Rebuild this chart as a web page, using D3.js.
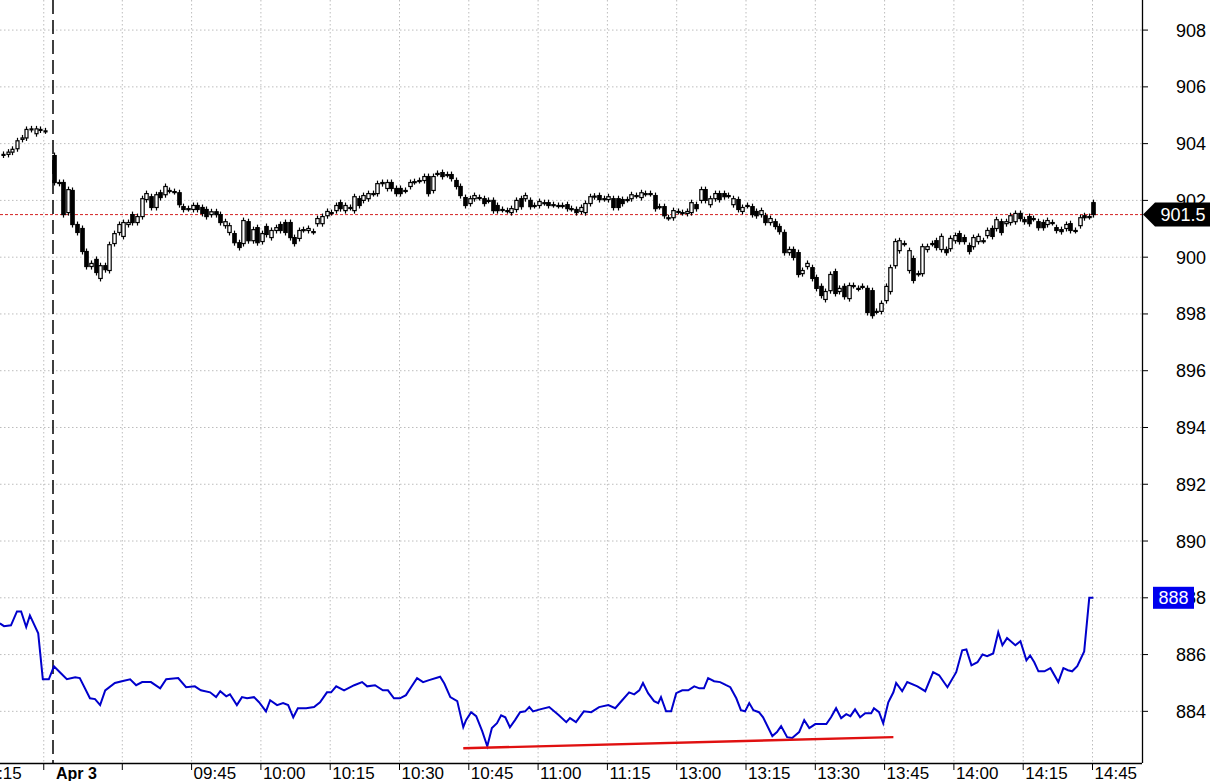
<!DOCTYPE html>
<html><head><meta charset="utf-8">
<script src="https://cdn.jsdelivr.net/npm/d3@7"></script>
<style>body{margin:0;background:#fff}svg{display:block;font-family:Arial,"Liberation Sans",sans-serif}</style>
</head><body><svg id="c" width="1225" height="781"></svg>
<script>
// ---- data ----
const preBars = [[903.6,903.62],[903.62,903.7],[903.7,903.8],[903.82,904.1],[904.15,904.2],[904.2,904.5],[904.5,904.52],[904.35,904.52],[904.5,904.48],[904.45,904.45]];
const sessionBars = [
[903.58,902.63],[902.63,902.6],[902.63,901.5],[901.57,902.38],[902.35,901.15],[901.15,900.87],[901.01,900.2],[900.2,899.67],[899.67,899.78],[899.92,899.46],
[899.25,899.7],[899.7,899.56],[899.53,900.44],[900.48,900.83],[900.87,901.15],[900.73,901.22],[901.15,901.22],[901.5,901.22],[901.22,901.43],[901.43,902.06],
[902.03,902.24],[902.13,901.75],[901.75,902.2],[902.27,902.1],[902.2,902.49],[902.35,902.35],[902.31,902.31],[902.27,901.85],[901.78,901.68],[901.71,901.71],
[901.68,901.82],[901.82,901.68],[901.75,901.54],[901.68,901.43],[901.5,901.6],[901.6,901.5],[901.5,901.22],[901.11,901.25],[900.87,901.11],[900.83,900.51],
[900.51,900.34],[900.48,901.29],[901.25,900.58],[900.58,900.97],[901.04,900.51],[900.55,900.83],[901.08,900.8],[900.69,900.94],[900.94,901.04],[901.15,900.94],
[901.22,900.87],[901.22,900.69],[900.69,900.48],[900.66,900.94],
[900.97,900.97],[900.94,901.01],[900.9,900.9],[901.18,901.36],[901.18,901.43],[901.46,901.61],[901.57,901.57],[901.64,901.82],[901.92,901.71],[901.64,901.82],
[901.75,901.75],[901.64,902.13],[902.06,901.82],[902.0,902.17],[902.06,902.24],[902.24,902.24],[902.24,902.59],[902.59,902.63],[902.42,902.63],[902.63,902.42],
[902.42,902.24],[902.42,902.24],[902.35,902.35],[902.49,902.63],[902.66,902.66],[902.7,902.7],[902.7,902.84],[902.84,902.24],[902.35,902.84],[902.95,902.95],
[902.98,902.84],[902.91,902.91],[902.91,902.77],[902.7,902.49],[902.49,902.17],[902.1,901.82],[901.89,902.06],[902.06,902.17],[902.1,902.1],[902.06,901.89],
[902.0,902.0],[902.0,901.64],[901.82,901.64],[901.68,901.68],[901.64,901.64],[901.57,901.71],[901.68,902.0],[902.06,901.78],[902.06,902.17],[902.0,901.78],
[901.82,901.82],[901.82,901.96],[901.92,901.92],[901.92,901.82],[901.85,901.85],[901.82,901.82],[901.82,901.82],[901.85,901.71],[901.71,901.71],[901.68,901.57],
[901.61,901.75],[901.57,901.89],[901.89,902.13],[902.13,902.15],[902.17,902.03],[902.06,902.06],[902.03,902.13],[902.06,901.75],[902.06,901.75],[902.03,901.89],
[902.03,902.03],[902.06,902.2],[902.17,902.17],[902.1,902.27],[902.24,902.24],[902.24,902.24],[902.17,901.71],[901.78,901.78],[901.78,901.46],[901.39,901.39],
[901.39,901.64],[901.61,901.61],[901.57,901.57],[901.54,901.61],[901.57,901.92],[901.85,901.71],
[902.0,902.38],[902.38,902.0],[901.85,902.06],[902.06,902.24],[902.24,902.03],[902.24,902.13],[902.17,902.17],[901.85,902.06],[902.03,901.68],[901.61,901.75],
[901.82,901.82],[901.78,901.5],[901.61,901.46],[901.5,901.64],[901.46,901.22],[901.22,901.36],[901.25,901.08],[901.08,900.9],[900.87,900.16],[900.16,900.27],
[900.27,899.99],[900.16,899.39],[899.42,899.53],[899.67,899.78],[899.63,899.25],[899.28,898.9],[898.97,898.65],[898.51,898.79],[898.82,899.39],[899.49,898.72],
[898.79,898.9],[898.97,898.61],[898.54,899.0],[899.0,899.0],[898.9,898.9],[898.97,898.97],[898.9,898.05],[898.82,897.94],[898.09,898.09],[898.09,898.37],
[898.47,898.97],[898.79,899.63],[899.7,900.55],[900.23,900.58],[900.48,900.48],[899.53,900.23],[899.95,899.18],[899.42,899.42],[899.42,900.37],[900.27,900.37],
[900.48,900.48],[900.58,900.34],[900.27,900.73],[900.27,900.16],[900.3,900.66],[900.58,900.76],[900.83,900.55],[900.69,900.55],[900.41,900.2],[900.37,900.69],
[900.55,900.73],[900.58,900.58],[900.76,900.94],[901.01,900.73],[901.01,901.32],[901.25,900.87],[901.18,901.25],[901.22,901.46],[901.25,901.54],[901.54,901.36],
[901.32,901.25],[901.43,901.18],[901.36,901.36],[901.25,901.04],[901.22,901.04],[901.15,901.29],[901.22,901.22],[901.04,900.94],[900.97,900.9],[901.01,901.15],
[901.18,900.94],[900.94,900.94],[901.11,901.39],[901.46,901.39],[901.43,901.43],[901.92,901.5]];
const blueMin = [-11.5,-10.6,-9.1,-7.8,-6.9,-5.8,-5.0,-3.2,-2.2,-0.9,0.2,1.7,3.0,4.8,5.8,8.0,9.1,10.2,11.3,13.4,14.9,16.7,18.0,19.3,21.2,23.2,24.5,27.1,28.8,30.7,32.0,34.0,35.3,36.2,37.5,38.3,39.8,40.9,42.0,43.5,44.6,46.1,47.0,48.5,49.8,50.9,52.0,53.0,54.8,56.5,57.8,59.3,60.2,61.3,63.0,65.2,66.9,68.0,69.7,71.4,72.5,73.8,75.1,76.4,77.5,78.8,80.1,81.4,83.8,84.7,86.0,87.5,88.8,89.4,90.5,91.6,92.9,94.0,95.0,96.1,97.0,97.9,98.9,100.0,101.1,102.2,103.1,103.9,105.4,107.4,109.5,111.1,111.9,113.2,114.9,116.5,118.2,120.2,121.7,123.2,124.7,125.8,126.9,127.7,128.8,130.1,131.0,131.6,132.7,133.8,134.9,136.2,137.5,138.8,139.9,140.9,141.8,143.1,144.4,145.7,146.6,147.9,148.9,149.8,150.7,151.6,152.8,153.7,155.7,156.7,157.6,158.9,160.0,161.5,162.6,163.7,165.0,167.4,168.4,169.5,170.6,171.7,172.6,173.6,174.7,175.8,177.1,177.7,178.8,179.7,180.8,181.9,182.5,183.8,184.9,187.1,188.8,190.5,191.8,193.6,195.5,196.8,197.7,198.8,200.1,201.2,202.2,203.5,204.6,205.5,206.5,208.3,209.4,210.7,211.5,212.4,213.3,214.6,215.9,217.6,218.7,219.7,220.6,221.7,223.2,224.3,225.2];
const blueVal = [887.1,887.0,887.03,887.52,887.52,886.97,887.38,886.75,885.13,885.13,885.59,885.34,885.13,885.2,885.17,884.46,884.43,884.22,884.74,885.0,885.06,885.13,884.92,885.03,885.03,884.81,885.13,885.17,884.85,884.88,884.74,884.67,884.5,884.71,884.53,884.6,884.22,884.5,884.46,884.5,884.32,884.0,884.39,884.22,884.29,884.22,883.79,884.11,884.11,884.15,884.32,884.67,884.67,884.88,884.74,884.92,885.03,884.88,884.92,884.74,884.74,884.46,884.46,884.57,884.85,885.17,885.03,885.1,885.22,884.98,884.5,884.36,883.44,883.69,883.97,883.83,883.3,882.77,883.41,883.58,883.86,883.79,883.44,883.69,883.97,884.0,884.15,884.0,884.07,884.15,883.86,883.62,883.76,883.62,884.0,883.97,884.15,884.22,884.11,884.39,884.67,884.6,884.74,885.0,884.64,884.36,884.29,884.5,884.0,884.0,884.64,884.74,884.74,884.88,884.81,884.81,885.17,885.06,885.03,884.92,884.85,884.46,884.04,884.0,884.29,884.04,883.97,883.79,883.13,883.27,883.48,883.09,883.06,883.27,883.69,883.41,883.55,883.55,883.79,884.11,883.76,883.9,883.83,884.07,883.79,883.93,883.93,884.11,883.97,883.58,884.32,884.67,885.0,884.71,885.03,884.88,884.71,885.38,885.27,884.85,885.38,886.15,886.18,885.62,885.73,886.0,885.94,886.04,886.79,886.33,886.58,886.33,886.47,885.8,885.97,885.73,885.41,885.41,885.52,885.03,885.52,885.45,885.41,885.59,886.11,888.0,888.0];
const trendMin = [88.8,181.9], trendVal = [882.7,883.09];
const lastPrice = 901.5, lastBlue = 888;
const yTicks = [884,886,888,890,892,894,896,898,900,902,904,906,908];
const xTickMin = [-17,-2,15,30,45,60,75,90,105,120,135,150,165,180,195,210,225];
const xTickLab = ["14:15","","","09:45","10:00","10:15","10:30","10:45","11:00","11:15","13:00","13:15","13:30","13:45","14:00","14:15","14:45"];

// ---- chart ----
const svg = d3.select("#c");
const W = 1142, H = 763;
const x = d3.scaleLinear().domain([0,15]).range([53,122.3]);
const y = d3.scaleLinear().domain([882.18,909.06]).range([H,0]);
const g = svg.append("g");
g.selectAll(".hg").data(yTicks).join("line").attr("x1",0).attr("x2",W).attr("y1",d=>y(d)).attr("y2",d=>y(d))
 .attr("stroke","#bdbdbd").attr("stroke-dasharray","1.5,2.5");
g.selectAll(".vg").data(xTickMin).join("line").attr("x1",d=>x(d)).attr("x2",d=>x(d)).attr("y1",0).attr("y2",H)
 .attr("stroke","#bdbdbd").attr("stroke-dasharray","1.5,2.5");
g.append("line").attr("x1",x(0)).attr("x2",x(0)).attr("y1",0).attr("y2",H).attr("stroke","#000").attr("stroke-width",1.5).attr("stroke-dasharray","14,6");
g.append("line").attr("x1",0).attr("x2",W).attr("y1",y(lastPrice)).attr("y2",y(lastPrice)).attr("stroke","#d42020").attr("stroke-dasharray","3,2");
function drawBars(data, xs, bw){
  const cg = g.append("g");
  data.forEach((d,i)=>{
    const cx = Math.round(xs(i))+0.5, o=d[0], c=d[1];
    const top = y(Math.max(o,c)), bot = y(Math.min(o,c));
    cg.append("line").attr("x1",cx).attr("x2",cx).attr("y1",top-3).attr("y2",bot+3).attr("stroke","#000").attr("stroke-width",1.2);
    const h = Math.max(1,bot-top);
    cg.append("rect").attr("x",cx-bw/2).attr("y",top).attr("width",bw).attr("height",h)
      .attr("fill", c<o?"#000":"#fff").attr("stroke","#000").attr("stroke-width",1.2);
  });
}
const xp = d3.scaleLinear().domain([0,preBars.length-1]).range([x(-10.8),x(-1.7)]);
drawBars(preBars, xp, 3);
const xs = d3.scaleLinear().domain([0,sessionBars.length-1]).range([x(0.2),x(225.2)]);
drawBars(sessionBars, xs, 3.4);
const line = d3.line().x(i=>x(blueMin[i])).y(i=>y(blueVal[i]));
g.append("path").attr("d",line(d3.range(blueMin.length))).attr("fill","none").attr("stroke","#0000cc").attr("stroke-width",2);
g.append("path").attr("d",d3.line().x(i=>x(trendMin[i])).y(i=>y(trendVal[i]))([0,1])).attr("stroke","#e01010").attr("stroke-width",2.4).attr("fill","none");
g.append("line").attr("x1",W+0.5).attr("x2",W+0.5).attr("y1",0).attr("y2",H).attr("stroke","#000").attr("stroke-width",1.3);
g.append("line").attr("x1",0).attr("x2",W).attr("y1",H+0.5).attr("y2",H+0.5).attr("stroke","#000").attr("stroke-width",1.3);
yTicks.forEach(v=>{
  g.append("line").attr("x1",W).attr("x2",W+6).attr("y1",y(v)).attr("y2",y(v)).attr("stroke","#000");
  g.append("text").attr("x",1206).attr("y",y(v)+6.5).attr("text-anchor","end").attr("font-size",18).text(v);
});
xTickMin.forEach((m,i)=>{
  g.append("line").attr("x1",x(m)).attr("x2",x(m)).attr("y1",H).attr("y2",H+7).attr("stroke","#000");
  if(!xTickLab[i]) return;
  if(i===0) g.append("text").attr("x",x(-2)-22).attr("y",H+16).attr("text-anchor","end").attr("font-size",17).text(xTickLab[i]);
  else g.append("text").attr("x",x(m)+2).attr("y",H+16).attr("font-size",17).text(xTickLab[i]);
});
g.append("text").attr("x",x(0)+3).attr("y",H+16).attr("font-size",16).attr("font-weight","bold").text("Apr 3");
const ty = y(lastPrice);
g.append("path").attr("d",`M${W+1},${ty} L${W+13},${ty-12} L${W+68},${ty-12} L${W+68},${ty+12} L${W+13},${ty+12} Z`).attr("fill","#000");
g.append("text").attr("x",W+41).attr("y",ty+6.5).attr("text-anchor","middle").attr("fill","#fff").attr("font-size",18).text(lastPrice);
const by = y(lastBlue);
g.append("rect").attr("x",W+11).attr("y",by-11).attr("width",41).attr("height",22).attr("fill","#0000ee");
g.append("text").attr("x",W+31.5).attr("y",by+6.5).attr("text-anchor","middle").attr("fill","#fff").attr("font-size",18).text(lastBlue);
</script></body></html>
